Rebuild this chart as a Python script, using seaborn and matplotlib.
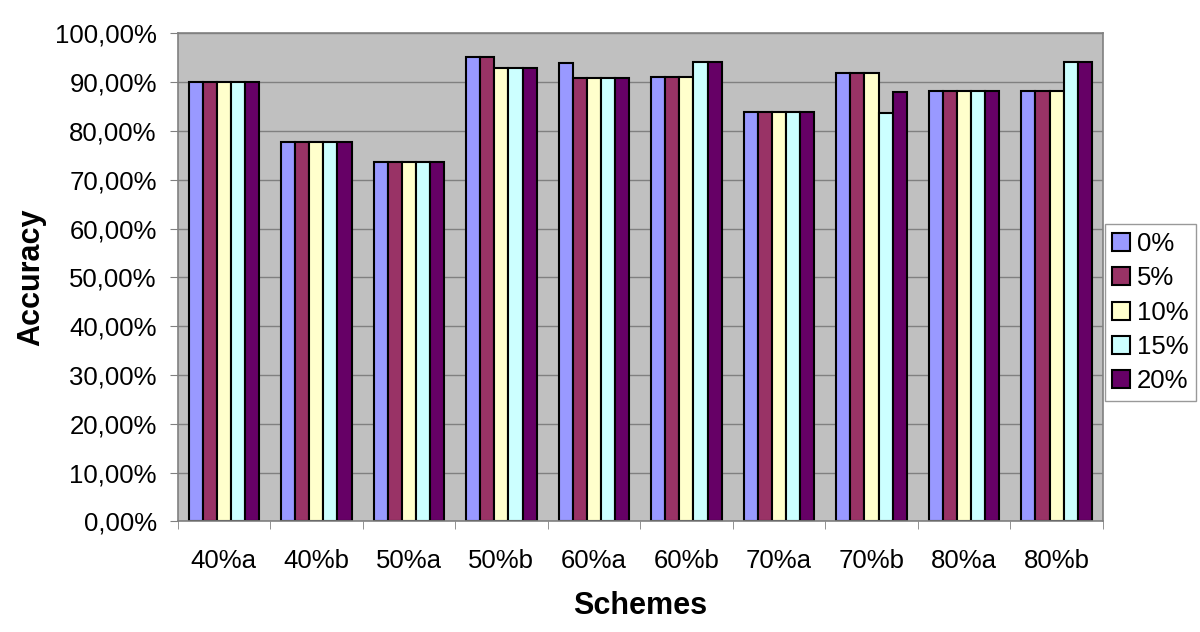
import matplotlib
matplotlib.use("Agg")
import matplotlib.pyplot as plt
from matplotlib.ticker import FuncFormatter, MultipleLocator
import numpy as np
import pandas as pd
import seaborn as sns

schemes = ["40%a", "40%b", "50%a", "50%b", "60%a", "60%b", "70%a", "70%b", "80%a", "80%b"]
noise_levels = ["0%", "5%", "10%", "15%", "20%"]

acc_0 = [90.0, 77.8, 73.7, 95.2, 94.0, 91.1, 83.9, 92.0, 88.2, 88.2]
acc_5 = [90.0, 77.8, 73.7, 95.2, 90.9, 91.1, 83.9, 92.0, 88.2, 88.2]
acc_10 = [90.0, 77.8, 73.7, 92.9, 90.9, 91.1, 83.9, 92.0, 88.2, 88.2]
acc_15 = [90.0, 77.8, 73.7, 92.9, 90.9, 94.1, 83.9, 83.8, 88.2, 94.1]
acc_20 = [90.0, 77.8, 73.7, 92.9, 90.9, 94.1, 83.9, 88.1, 88.2, 94.1]

colors = ["#9999FF", "#993366", "#FFFFCC", "#CCFFFF", "#660066"]

series = [acc_0, acc_5, acc_10, acc_15, acc_20]
df = pd.DataFrame({
    "scheme": np.tile(schemes, len(noise_levels)),
    "noise": np.repeat(noise_levels, len(schemes)),
    "accuracy": np.concatenate(series) / 100.0,
})

sns.set_style("white")
plt.rcParams["font.family"] = ["Liberation Sans", "DejaVu Sans"]
plt.rcParams["text.color"] = "black"
plt.rcParams["axes.labelcolor"] = "black"
plt.rcParams["xtick.color"] = "black"
plt.rcParams["ytick.color"] = "black"

fig = plt.figure(figsize=(12, 6.32), dpi=100)
ax = fig.add_axes([0.148, 0.175, 0.771, 0.772])
ax.set_facecolor("#C0C0C0")

sns.barplot(data=df, x="scheme", y="accuracy", hue="noise",
            order=schemes, hue_order=noise_levels, palette=colors,
            width=0.76, gap=0, edgecolor="black", linewidth=1.5,
            saturation=1, errorbar=None, ax=ax)

ax.set_ylim(0, 1.0)
ax.set_xlim(-0.5, len(schemes) - 0.5)
ax.yaxis.set_major_locator(MultipleLocator(0.1))
ax.yaxis.set_major_formatter(FuncFormatter(lambda v, p: f"{v * 100:.2f}%".replace(".", ",")))
ax.grid(axis="y", color="#808080", linewidth=1)
ax.set_axisbelow(True)

for s in ax.spines.values():
    s.set_color("#808080")
    s.set_linewidth(1.2)

ax.set_xticks(np.arange(len(schemes)))
ax.set_xticklabels(schemes)
ax.set_xticks(np.arange(len(schemes) + 1) - 0.5, minor=True)
ax.tick_params(axis="x", which="major", length=0, pad=20, labelsize=18.5)
ax.tick_params(axis="x", which="minor", length=6, color="#808080", direction="out")
ax.tick_params(axis="y", length=6, color="#808080", labelcolor="black",
               direction="out", labelsize=18.5, pad=9)
ax.tick_params(bottom=True, left=True, which="both")

ax.set_xlabel("Schemes", fontsize=22, fontweight="bold", labelpad=13)
ax.set_ylabel("Accuracy", fontsize=22, fontweight="bold", labelpad=6)

leg = ax.legend(loc="center left", bbox_to_anchor=(1.002, 0.428), fontsize=18.5,
                frameon=True, fancybox=False, handlelength=0.7, handleheight=0.7,
                handletextpad=0.25, borderpad=0.3, labelspacing=0.4, borderaxespad=0)
leg.get_frame().set_edgecolor("#808080")
leg.get_frame().set_linewidth(1)

fig.savefig("out.png", dpi=100, facecolor="white")
